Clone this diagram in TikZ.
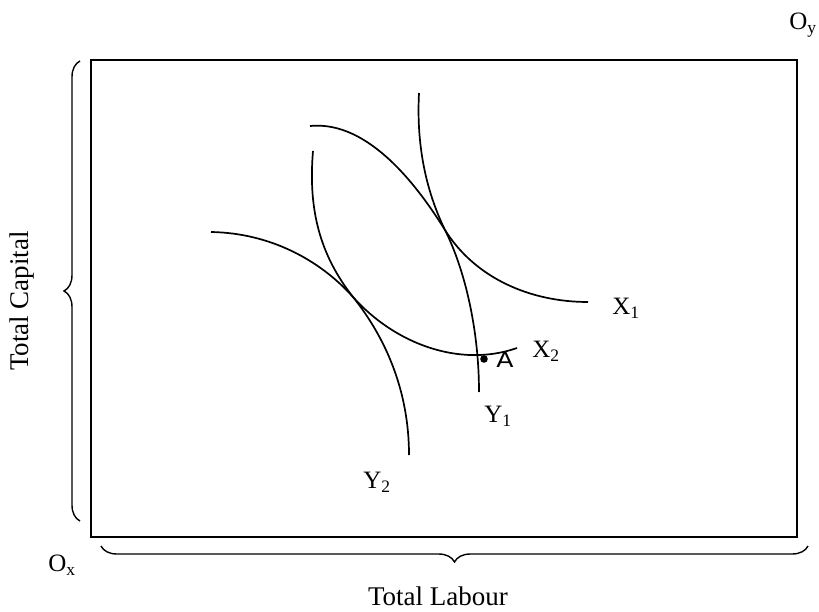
\documentclass[tikz,border=0pt]{standalone}
\usepackage{fontspec}
\setmainfont{Liberation Serif}
\setsansfont{DejaVu Sans}
\usetikzlibrary{decorations.pathreplacing}

\begin{document}
\begin{tikzpicture}[
    x=1pt, y=-1pt,
    font=\fontsize{25}{29}\selectfont,
    curve/.style={line width=1.7pt},
    lbl/.style={inner sep=0pt},
    ttl/.style={inner sep=0pt, font=\fontsize{27}{31}\selectfont},
    brc/.style={line width=1.4pt, decorate, decoration={brace, amplitude=16pt}}
  ]
  \useasboundingbox (0,0) rectangle (819,612);
  % the box
  \coordinate (ox) at (91,537);
  \coordinate (oy) at (797,60);
  \draw[line width=1.7pt] (ox) rectangle (oy);
  % corners
  \node[lbl] (Ox) at (62,565) {O\textsubscript{x}};
  \node[lbl] (Oy) at (803,25) {O\textsubscript{y}};
  % curves of X
  \draw[curve] (310,126) .. controls (370,120) and (420,190) .. (445,230)
                         .. controls (475,278) and (530,302) .. (588,302);
  \draw[curve] (211,232) .. controls (270,233) and (320,260) .. (353,297)
                         .. controls (395,344) and (460,368) .. (517,348);
  % curves of Y
  \draw[curve] (419,93) .. controls (416,150) and (428,195) .. (445,230)
                        .. controls (465,270) and (479,330) .. (479,392);
  \draw[curve] (313,151) .. controls (308,210) and (320,255) .. (353,297)
                         .. controls (385,337) and (409,390) .. (409,455);
  % point A
  \fill (484,359) circle (3.8pt);
  \node[lbl, font=\sffamily\fontsize{21}{24}\selectfont, xscale=1.2] (A) at (505,360) {A};
  % labels
  \node[lbl] (X1) at (626,308) {X\textsubscript{1}};
  \node[lbl] (X2) at (546,351) {X\textsubscript{2}};
  \node[lbl] (Y1) at (498,416) {Y\textsubscript{1}};
  \node[lbl] (Y2) at (377,482) {Y\textsubscript{2}};
  % braces
  \coordinate (lb) at (80,521);
  \coordinate (lt) at (80,61);
  \coordinate (br) at (808,546);
  \coordinate (bl) at (101,546);
  \draw[brc] (lb) -- (lt);
  \draw[brc] (br) -- (bl);
  \node[ttl, rotate=90] (cap) at (22,301) {Total Capital};
  \node[ttl] (lab) at (438,596) {Total Labour};
\end{tikzpicture}
\end{document}
